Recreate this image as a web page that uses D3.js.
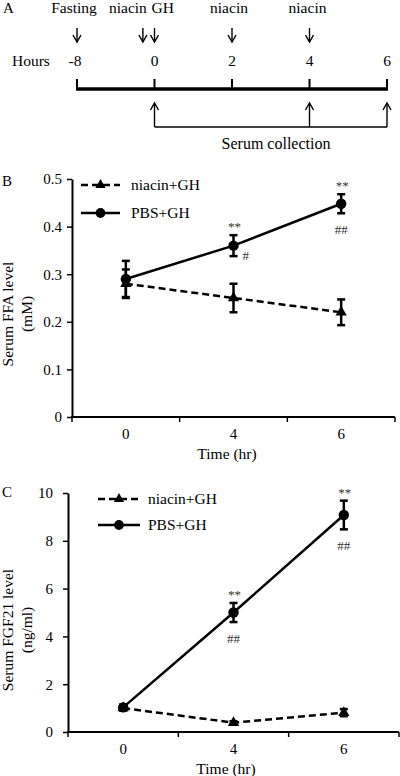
<!DOCTYPE html>
<html><head><meta charset="utf-8">
<script src="https://cdn.jsdelivr.net/npm/d3@7"></script>
<style>body{margin:0;background:#fff} svg{display:block}</style>
</head><body><svg id="c" width="400" height="776" font-family="Liberation Serif, Times New Roman, serif"></svg>
<script>
// ---------- Panel A: protocol timeline ----------
const hourLabels = ["-8", "0", "2", "4", "6"];
const eventLabels = ["Fasting", "niacin", "GH", "niacin", "niacin"];
const eventPositions = [0, 0.85, 1, 2, 3];           // index along the hour labels
const collectionIdx = [1, 3, 4];                     // serum collection at 0, 4, 6 h
const collectionText = "Serum collection";

// ---------- Panel B: serum FFA ----------
const timeCats = ["0", "4", "6"];
const ffaNiacin = [0.28, 0.25, 0.22];
const ffaNiacinErr = [0.03, 0.03, 0.027];
const ffaPBS = [0.29, 0.36, 0.448];
const ffaPBSErr = [0.038, 0.022, 0.02];
const ffaTicks = [0, 0.1, 0.2, 0.3, 0.4, 0.5];
const ffaStarMarks = ["", "**", "**"];
const ffaHashBelow = ["", "", "##"];
const ffaHashSide = ["", "#", ""];

// ---------- Panel C: serum FGF21 ----------
const fgfNiacin = [1.0, 0.39, 0.81];
const fgfNiacinErr = [0.1, 0.06, 0.15];
const fgfPBS = [1.03, 5.0, 9.08];
const fgfPBSErr = [0.12, 0.4, 0.6];
const fgfTicks = [0, 2, 4, 6, 8, 10];
const fgfStarMarks = ["", "**", "**"];
const fgfHashBelow = ["", "##", "##"];
const fgfHashSide = ["", "", ""];

const seriesNames = ["niacin+GH", "PBS+GH"];
const FONT = "Liberation Serif, Times New Roman, serif";

const svg = d3.select("#c");

// ===== Panel A =====
(function () {
  const g = svg.append("g");
  const xA = d3.scaleLinear().domain([0, hourLabels.length - 1]).range([77, 387]);
  g.append("text").attr("x", 3).attr("y", 13).attr("font-size", 15).text("A");
  const labelAnchor = ["middle", "end", "start", "middle", "middle"];
  const labelDx = [-3, 4, -3, -3, -2];
  eventLabels.forEach((t, i) => {
    g.append("text").attr("x", xA(eventPositions[i]) + labelDx[i]).attr("y", 13)
      .attr("text-anchor", labelAnchor[i]).attr("font-size", 15.5).text(t);
  });
  eventPositions.forEach(p => {
    const x = xA(p);
    g.append("line").attr("x1", x).attr("x2", x).attr("y1", 28).attr("y2", 42)
      .attr("stroke", "#000").attr("stroke-width", 1.4);
    g.append("path").attr("d", `M${x - 4},35 L${x},42 L${x + 4},35`)
      .attr("fill", "none").attr("stroke", "#000").attr("stroke-width", 1.4);
  });
  g.append("text").attr("x", 12).attr("y", 66).attr("font-size", 15.5).text("Hours");
  hourLabels.forEach((h, i) => {
    g.append("text").attr("x", xA(i) - (i === 0 ? 2 : 0)).attr("y", 66)
      .attr("text-anchor", "middle").attr("font-size", 15.5).text(h);
  });
  g.append("line").attr("x1", xA(0) - 1).attr("x2", xA(hourLabels.length - 1) + 1)
    .attr("y1", 89).attr("y2", 89).attr("stroke", "#000").attr("stroke-width", 3.5);
  hourLabels.forEach((h, i) => {
    g.append("line").attr("x1", xA(i)).attr("x2", xA(i)).attr("y1", 79).attr("y2", 89)
      .attr("stroke", "#000").attr("stroke-width", 2);
  });
  collectionIdx.forEach(i => {
    const x = xA(i);
    g.append("line").attr("x1", x).attr("x2", x).attr("y1", 103).attr("y2", 127)
      .attr("stroke", "#000").attr("stroke-width", 1.4);
    g.append("path").attr("d", `M${x - 4},110 L${x},103 L${x + 4},110`)
      .attr("fill", "none").attr("stroke", "#000").attr("stroke-width", 1.4);
  });
  g.append("line").attr("x1", xA(collectionIdx[0])).attr("x2", xA(collectionIdx[collectionIdx.length - 1]))
    .attr("y1", 127).attr("y2", 127).attr("stroke", "#000").attr("stroke-width", 1.4);
  g.append("text").attr("x", 276).attr("y", 149).attr("text-anchor", "middle")
    .attr("font-size", 16).text(collectionText);
})();

// ===== Panels B and C =====
function drawPanel(cfg) {
  const g = svg.append("g");
  const x = d3.scaleBand().domain(timeCats).range(cfg.xr);
  const y = d3.scaleLinear().domain([cfg.ticks[0], cfg.ticks[cfg.ticks.length - 1]]).range(cfg.yr);
  const cx = c => x(c) + x.bandwidth() / 2;
  const y0 = cfg.yr[0];

  g.append("text").attr("x", 2).attr("y", cfg.letterY).attr("font-size", 15).text(cfg.letter);

  const ya = g.append("g").attr("transform", `translate(${cfg.xr[0]},0)`)
    .call(d3.axisLeft(y).tickValues(cfg.ticks).tickSize(5).tickSizeOuter(0)
      .tickPadding(cfg.pad).tickFormat(cfg.fmt));
  ya.attr("font-family", FONT).attr("font-size", 15);
  ya.select(".domain").attr("stroke-width", 2);
  ya.selectAll(".tick line").attr("stroke-width", 1.5);
  ya.selectAll("text").attr("fill", "#000");

  g.append("line").attr("x1", cfg.xr[0] - 1).attr("x2", cfg.xr[1]).attr("y1", y0).attr("y2", y0)
    .attr("stroke", "#000").attr("stroke-width", 2);
  const bounds = timeCats.map(c => x(c)).concat([cfg.xr[1]]);
  bounds.forEach(b => g.append("line").attr("x1", b).attr("x2", b).attr("y1", y0).attr("y2", y0 + 5)
    .attr("stroke", "#000").attr("stroke-width", 1.5));
  timeCats.forEach(c => g.append("text").attr("x", cx(c)).attr("y", y0 + 22)
    .attr("text-anchor", "middle").attr("font-size", 15).text(c));
  g.append("text").attr("x", cfg.xTitleX).attr("y", y0 + 42).attr("text-anchor", "middle")
    .attr("font-size", 15.5).text("Time (hr)");

  cfg.yTitle.forEach((t, i) => {
    const tx = i === 0 ? 13 : 32, ty = cfg.yTitleY;
    g.append("text").attr("transform", `translate(${tx},${ty}) rotate(-90)`)
      .attr("text-anchor", "middle").attr("font-size", 15.5).text(t);
  });

  const series = [
    { vals: cfg.niacin, err: cfg.niacinErr, dash: "7,4", sym: d3.symbolTriangle },
    { vals: cfg.pbs, err: cfg.pbsErr, dash: null, sym: d3.symbolCircle }
  ];
  const line = d3.line().x((d, i) => cx(timeCats[i])).y(d => y(d));
  series.forEach(s => {
    g.append("path").datum(s.vals).attr("d", line).attr("fill", "none")
      .attr("stroke", "#000").attr("stroke-width", 2.5)
      .attr("stroke-dasharray", s.dash);
    s.vals.forEach((v, i) => {
      const px = cx(timeCats[i]);
      const yt = y(v + s.err[i]), yb = y(v - s.err[i]);
      g.append("line").attr("x1", px).attr("x2", px).attr("y1", yt).attr("y2", yb)
        .attr("stroke", "#000").attr("stroke-width", 2.5);
      [yt, yb].forEach(yy => g.append("line").attr("x1", px - 4).attr("x2", px + 4)
        .attr("y1", yy).attr("y2", yy).attr("stroke", "#000").attr("stroke-width", 2.5));
      g.append("path").attr("d", d3.symbol().type(s.sym).size(s.sym === d3.symbolCircle ? 85 : 55)())
        .attr("transform", `translate(${px},${y(v)})`).attr("fill", "#000");
    });
  });

  cfg.pbs.forEach((v, i) => {
    const px = cx(timeCats[i]);
    if (cfg.stars[i]) g.append("text").attr("x", px + 1).attr("y", y(v + cfg.pbsErr[i]) - 4)
      .attr("text-anchor", "middle").attr("font-size", 13).attr("fill", "#333").text(cfg.stars[i]);
    if (cfg.hashBelow[i]) g.append("text").attr("x", px).attr("y", y(v - cfg.pbsErr[i]) + 21)
      .attr("text-anchor", "middle").attr("font-size", 13).attr("fill", "#333").text(cfg.hashBelow[i]);
    if (cfg.hashSide[i]) g.append("text").attr("x", px + 9).attr("y", y(v) + 14)
      .attr("font-size", 13).attr("fill", "#333").text(cfg.hashSide[i]);
  });

  const L = cfg.legend;
  [0, 1].forEach(k => {
    const ly = L.y[k];
    g.append("line").attr("x1", L.x0).attr("x2", L.x1).attr("y1", ly).attr("y2", ly)
      .attr("stroke", "#000").attr("stroke-width", 2.5).attr("stroke-dasharray", series[k].dash);
    g.append("path").attr("d", d3.symbol().type(series[k].sym).size(k === 1 ? 75 : 45)())
      .attr("transform", `translate(${(L.x0 + L.x1) / 2},${ly})`).attr("fill", "#000");
    g.append("text").attr("x", L.tx).attr("y", ly + 4.5).attr("font-size", 15.5).text(seriesNames[k]);
  });
}

drawPanel({
  letter: "B", letterY: 186,
  xr: [72, 395], yr: [417, 179], ticks: ffaTicks, pad: 5,
  fmt: d => d === 0 ? "0" : d3.format(".1f")(d),
  niacin: ffaNiacin, niacinErr: ffaNiacinErr, pbs: ffaPBS, pbsErr: ffaPBSErr,
  stars: ffaStarMarks, hashBelow: ffaHashBelow, hashSide: ffaHashSide,
  yTitle: ["Serum FFA level", "(mM)"], yTitleY: 314, xTitleX: 227,
  legend: { x0: 81, x1: 120, y: [185, 213], tx: 131 }
});

drawPanel({
  letter: "C", letterY: 497,
  xr: [68, 399], yr: [732, 493], ticks: fgfTicks, pad: 10,
  fmt: d3.format("d"),
  niacin: fgfNiacin, niacinErr: fgfNiacinErr, pbs: fgfPBS, pbsErr: fgfPBSErr,
  stars: fgfStarMarks, hashBelow: fgfHashBelow, hashSide: fgfHashSide,
  yTitle: ["Serum FGF21 level", "(ng/ml)"], yTitleY: 630, xTitleX: 226,
  legend: { x0: 98, x1: 140, y: [499, 525], tx: 148 }
});
</script>
</body></html>
